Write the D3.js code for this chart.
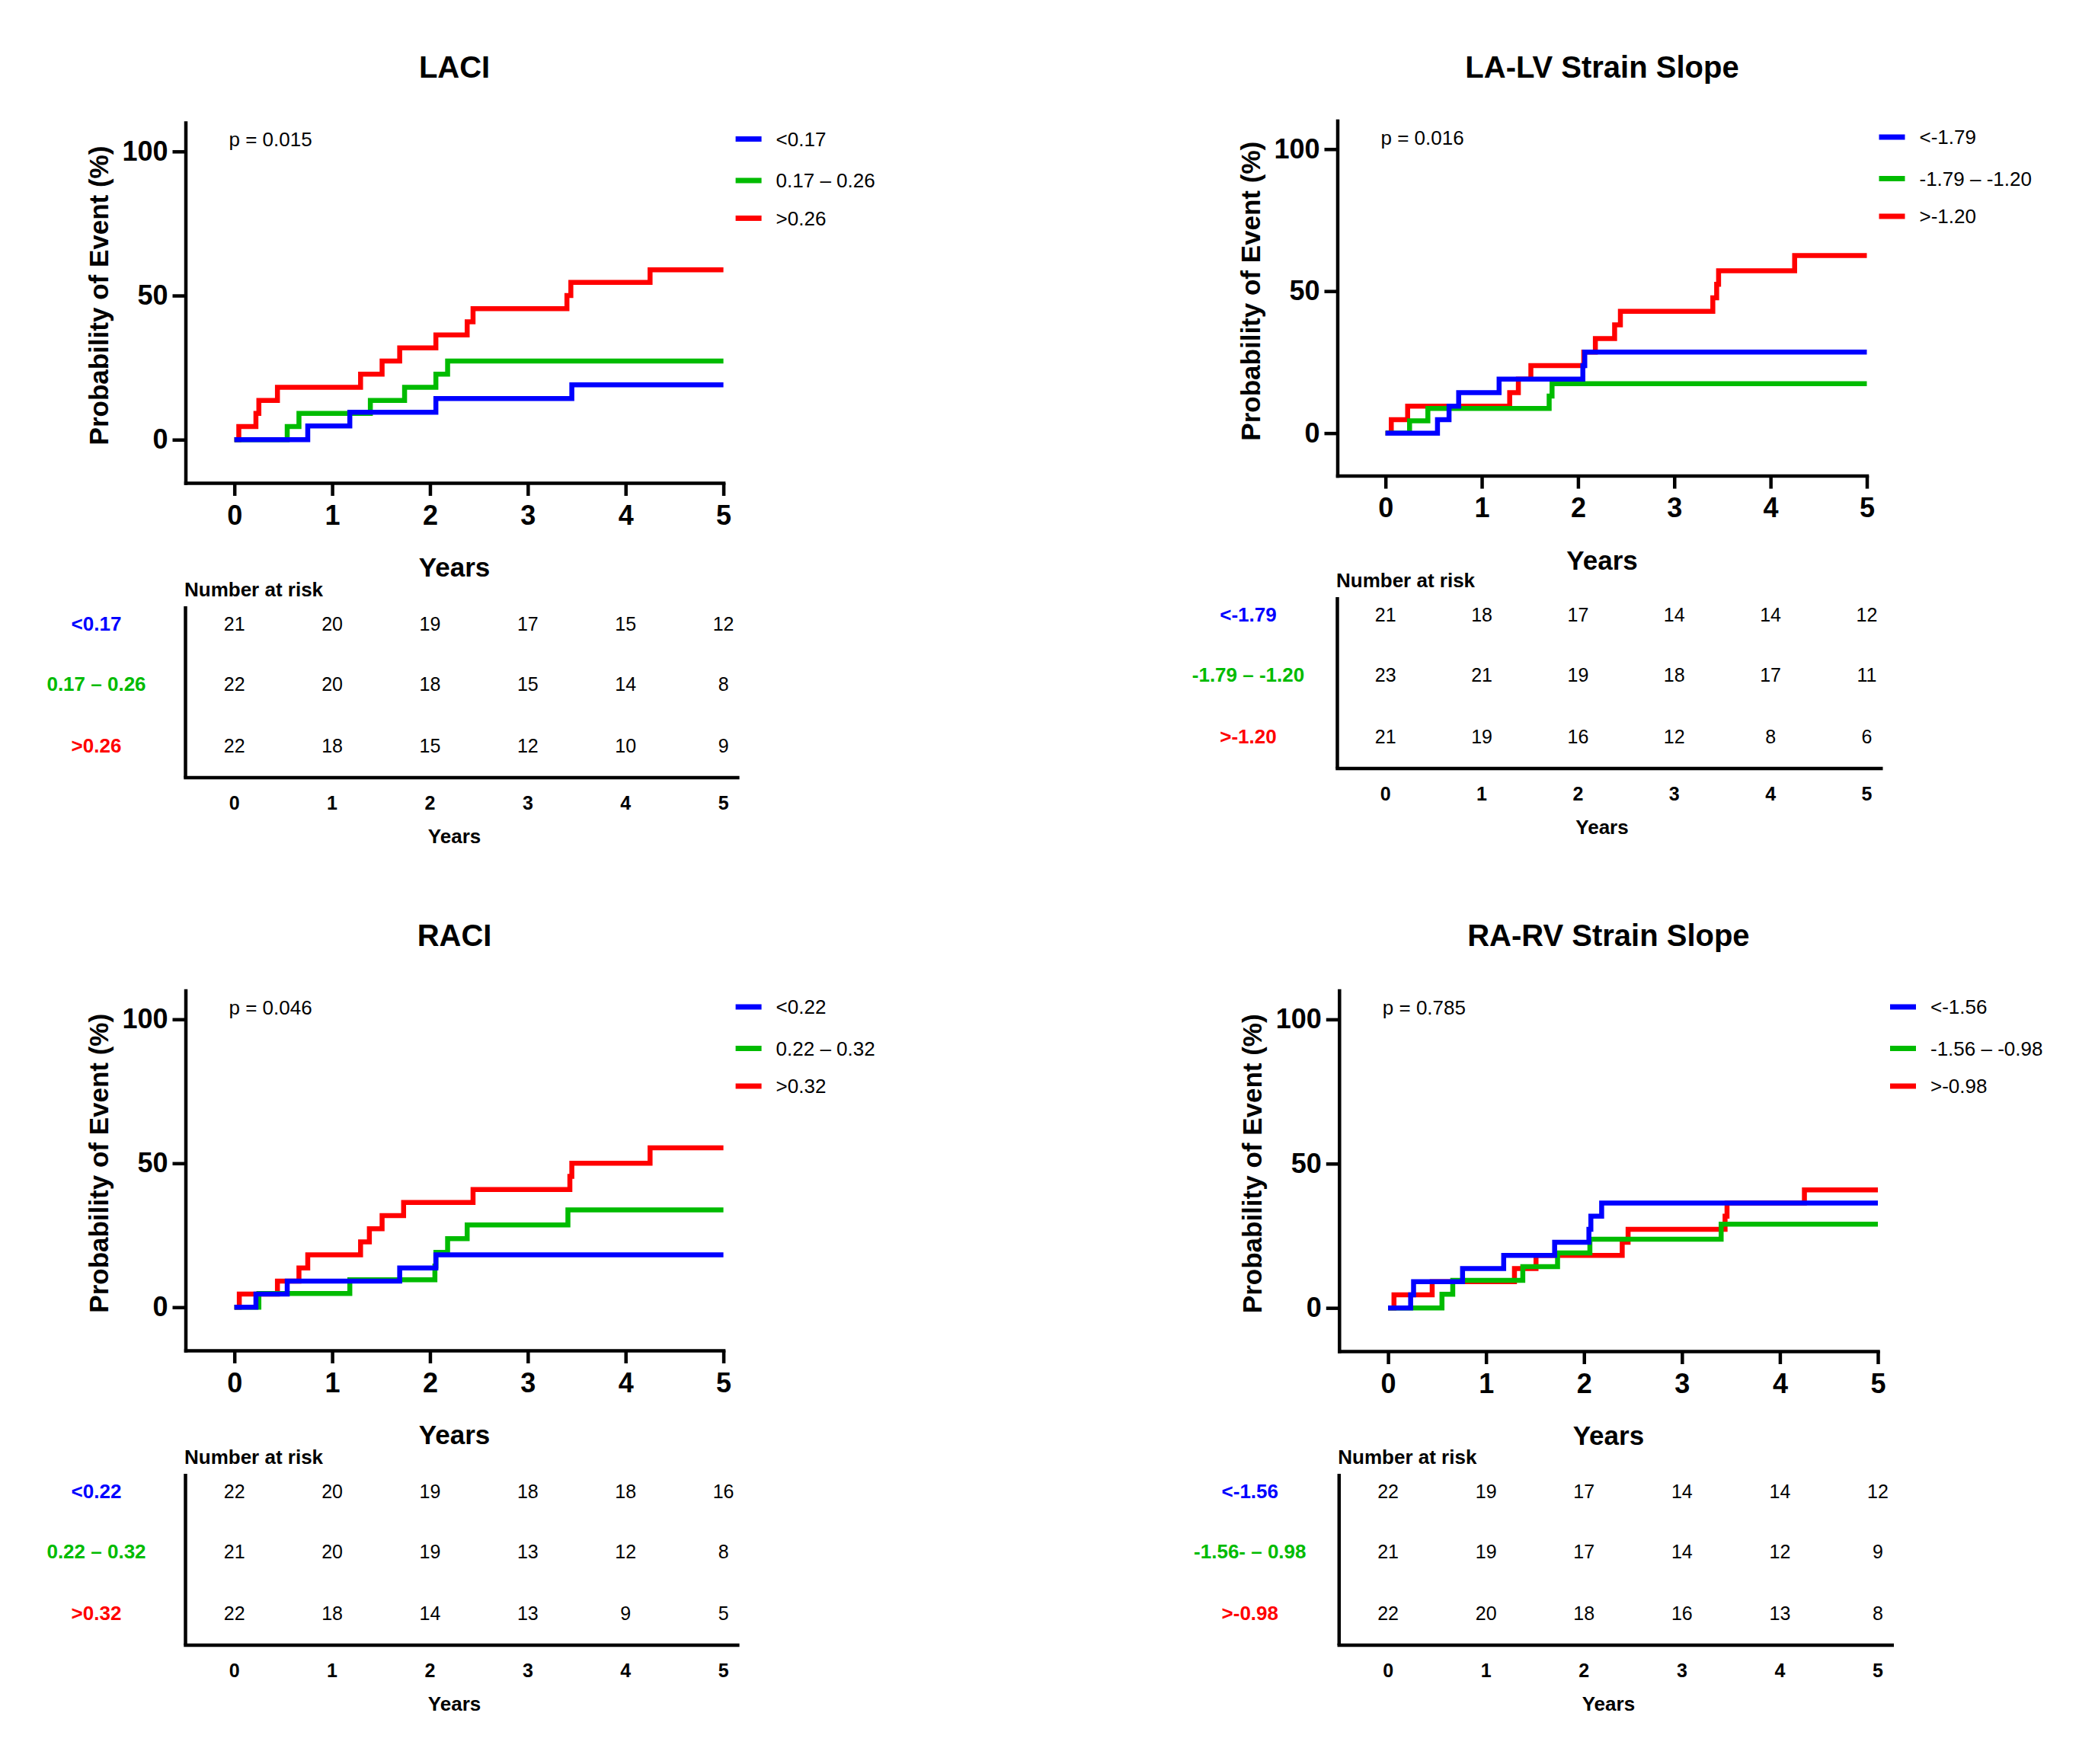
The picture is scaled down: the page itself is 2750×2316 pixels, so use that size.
<!DOCTYPE html>
<html>
<head>
<meta charset="utf-8">
<script src="https://cdn.jsdelivr.net/npm/d3@7/dist/d3.min.js"></script>
<style>
  html, body { margin: 0; padding: 0; background: #fff; }
  svg { display: block; }
  text { font-family: "Liberation Sans", Arial, Helvetica, sans-serif; }
</style>
</head>
<body>
<svg id="chart" width="2750" height="2316"></svg>
<script>
// ---------------- DATA ----------------
const xTicks = [0, 1, 2, 3, 4, 5];
const yTicks = [0, 50, 100];
const followUpEnd = 5;

// LACI
const laciLow  = [[0,0],[0.75,4.76],[1.18,9.52],[2.06,14.29],[3.45,19.05]];
const laciMid  = [[0,0],[0.54,4.55],[0.66,9.09],[1.39,13.64],[1.74,18.18],[2.06,22.73],[2.18,27.27]];
const laciHigh = [[0,0],[0.045,4.55],[0.22,9.09],[0.25,13.64],[0.44,18.18],[1.29,22.73],[1.51,27.27],[1.69,31.82],[2.06,36.36],[2.38,40.91],[2.44,45.45],[3.40,50.0],[3.44,54.55],[4.25,58.9]];
const laciGroups = ["<0.17", "0.17 \u2013 0.26", ">0.26"];
const laciTableGroups = ["<0.17", "0.17 \u2013 0.26", ">0.26"];
const laciRisk = [[21,20,19,17,15,12],[22,20,18,15,14,8],[22,18,15,12,10,9]];

// LA-LV Strain Slope
const lalvLow  = [[0,0],[0.54,4.76],[0.66,9.52],[0.76,14.29],[1.18,19.05],[2.05,23.81],[2.07,28.57]];
const lalvMid  = [[0,0],[0.25,4.35],[0.44,8.70],[1.70,13.04],[1.73,17.39]];
const lalvHigh = [[0,0],[0.06,4.76],[0.23,9.52],[1.29,14.29],[1.38,19.05],[1.51,23.81],[2.06,28.57],[2.18,33.33],[2.38,38.10],[2.44,42.86],[3.40,47.62],[3.44,52.38],[3.46,57.14],[4.25,62.5]];
const lalvGroups = ["<-1.79", "-1.79 \u2013 -1.20", ">-1.20"];
const lalvTableGroups = ["<-1.79", "-1.79 \u2013 -1.20", ">-1.20"];
const lalvRisk = [[21,18,17,14,14,12],[23,21,19,18,17,11],[21,19,16,12,8,6]];

// RACI
const raciLow  = [[0,0],[0.22,4.55],[0.54,9.09],[1.69,13.64],[2.06,18.18]];
const raciMid  = [[0,0],[0.25,4.76],[1.18,9.52],[2.05,14.29],[2.06,19.05],[2.18,23.81],[2.38,28.57],[3.41,33.8]];
const raciHigh = [[0,0],[0.05,4.55],[0.44,9.09],[0.66,13.64],[0.75,18.18],[1.29,22.73],[1.38,27.27],[1.51,31.82],[1.73,36.36],[2.44,40.91],[3.43,45.45],[3.45,50.0],[4.25,55.4]];
const raciGroups = ["<0.22", "0.22 \u2013 0.32", ">0.32"];
const raciTableGroups = ["<0.22", "0.22 \u2013 0.32", ">0.32"];
const raciRisk = [[22,20,19,18,18,16],[21,20,19,13,12,8],[22,18,14,13,9,5]];

// RA-RV Strain Slope
const rarvLow  = [[0,0],[0.23,4.55],[0.26,9.09],[0.76,13.64],[1.18,18.18],[1.70,22.73],[2.05,27.27],[2.07,31.82],[2.18,36.36]];
const rarvMid  = [[0,0],[0.55,4.76],[0.66,9.52],[1.375,14.29],[1.73,19.05],[2.06,23.81],[3.40,29.0]];
const rarvHigh = [[0,0],[0.06,4.55],[0.45,9.09],[1.29,13.64],[1.51,18.18],[2.39,22.73],[2.45,27.27],[3.44,31.82],[3.46,36.36],[4.25,40.9]];
const rarvGroups = ["<-1.56", "-1.56 \u2013 -0.98", ">-0.98"];
const rarvTableGroups = ["<-1.56", "-1.56- \u2013 0.98", ">-0.98"];
const rarvRisk = [[22,19,17,14,14,12],[21,19,17,14,12,9],[22,20,18,16,13,8]];

const titles = ["LACI", "LA-LV Strain Slope", "RACI", "RA-RV Strain Slope"];
const pValues = ["p = 0.015", "p = 0.016", "p = 0.046", "p = 0.785"];

// ---------------- LAYOUT / STYLE ----------------
const colors = ["#0000ff", "#00bb00", "#ff0000"];
const FONT = '"Liberation Sans", Arial, Helvetica, sans-serif';

const panels = [
  { title: titles[0], p: pValues[0], series: [laciLow, laciMid, laciHigh], groups: laciGroups, tgroups: laciTableGroups, risk: laciRisk,
    left: 243.5, right: 949.6, top: 161, bottom: 634, titleY: 102, tableBase: 634 },
  { title: titles[1], p: pValues[1], series: [lalvLow, lalvMid, lalvHigh], groups: lalvGroups, tgroups: lalvTableGroups, risk: lalvRisk,
    left: 1755.5, right: 2450.5, top: 158.5, bottom: 624.6, titleY: 102, tableBase: 622 },
  { title: titles[2], p: pValues[2], series: [raciLow, raciMid, raciHigh], groups: raciGroups, tgroups: raciTableGroups, risk: raciRisk,
    left: 243.5, right: 949.6, top: 1300.5, bottom: 1773, titleY: 1242, tableBase: 1773 },
  { title: titles[3], p: pValues[3], series: [rarvLow, rarvMid, rarvHigh], groups: rarvGroups, tgroups: rarvTableGroups, risk: rarvRisk,
    left: 1757.8, right: 2465, top: 1300.5, bottom: 1774, titleY: 1242, tableBase: 1773 }
];

const svg = d3.select("#chart");
svg.append("rect").attr("width", 2750).attr("height", 2316).attr("fill", "#fff");

const AXW = 4.5;
const intFmt = d3.format("d");

panels.forEach(P => {
  const g = svg.append("g");
  const x = d3.scaleLinear().domain([-0.5, 5]).range([P.left, P.right]);
  const y = d3.scaleLinear().domain([-15, 110]).range([P.bottom, P.top]);
  const cx = (P.left + P.right) / 2;

  // title
  g.append("text").attr("x", cx).attr("y", P.titleY).attr("text-anchor", "middle")
    .attr("font-size", 40).attr("font-weight", "bold").text(P.title);

  // axes
  const xAxis = d3.axisBottom(x).tickValues(xTicks).tickFormat(intFmt).tickSize(17).tickSizeOuter(0).tickPadding(12);
  const yAxis = d3.axisLeft(y).tickValues(yTicks).tickFormat(intFmt).tickSize(17).tickSizeOuter(0).tickPadding(6);
  const gx = g.append("g").attr("transform", `translate(0,${P.bottom})`).call(xAxis);
  const gy = g.append("g").attr("transform", `translate(${P.left},0)`).call(yAxis);
  [gx, gy].forEach(a => {
    a.select(".domain").attr("stroke", "#000").attr("stroke-width", AXW).attr("stroke-linecap", "square");
    a.selectAll(".tick line").attr("stroke", "#000").attr("stroke-width", AXW);
    a.selectAll(".tick text").attr("fill", "#000").attr("font-size", 36).attr("font-weight", "bold").attr("font-family", FONT);
  });

  // axis titles
  g.append("text").attr("x", cx).attr("y", P.bottom + 123).attr("text-anchor", "middle")
    .attr("font-size", 35).attr("font-weight", "bold").text("Years");
  g.append("text").attr("transform", `translate(${P.left - 102},${y(50)}) rotate(-90)`)
    .attr("text-anchor", "middle").attr("font-size", 35).attr("font-weight", "bold")
    .text("Probability of Event (%)");

  // p-value
  g.append("text").attr("x", P.left + 57).attr("y", P.top + 31).attr("font-size", 26).text(P.p);

  // curves (draw red, green, blue so blue on top)
  const line = d3.line().x(d => x(d[0])).y(d => y(d[1])).curve(d3.curveStepAfter);
  [2, 1, 0].forEach(i => {
    const s = P.series[i];
    const pts = s.concat([[followUpEnd, s[s.length - 1][1]]]);
    g.append("path").datum(pts).attr("d", line).attr("fill", "none")
      .attr("stroke", colors[i]).attr("stroke-width", 6.5).attr("stroke-linejoin", "miter");
  });

  // legend
  const legOff = [21.5, 76, 125.5];
  P.groups.forEach((lab, i) => {
    const ly = P.top + legOff[i];
    g.append("line").attr("x1", P.right + 16).attr("x2", P.right + 50).attr("y1", ly).attr("y2", ly)
      .attr("stroke", colors[i]).attr("stroke-width", 7);
    g.append("text").attr("x", P.right + 69).attr("y", ly + 9.4).attr("font-size", 26).text(lab);
  });

  // number at risk table
  const tb = P.tableBase;
  g.append("text").attr("x", P.left - 1.5).attr("y", tb + 149).attr("font-size", 26)
    .attr("font-weight", "bold").text("Number at risk");
  g.append("line").attr("x1", P.left).attr("x2", P.left).attr("y1", tb + 162).attr("y2", tb + 387)
    .attr("stroke", "#000").attr("stroke-width", AXW);
  g.append("line").attr("x1", P.left - AXW / 2).attr("x2", P.right + 21).attr("y1", tb + 387).attr("y2", tb + 387)
    .attr("stroke", "#000").attr("stroke-width", AXW);
  const rowOff = [185, 264, 345];
  P.risk.forEach((row, i) => {
    const ry = tb + rowOff[i];
    g.append("text").attr("x", P.left - 117).attr("y", ry + 9).attr("text-anchor", "middle")
      .attr("font-size", 26).attr("font-weight", "bold").attr("fill", colors[i]).text(P.tgroups[i]);
    g.selectAll(null).data(row).enter().append("text")
      .attr("x", (d, k) => x(xTicks[k])).attr("y", ry + 9).attr("text-anchor", "middle")
      .attr("font-size", 25).text(d => d);
  });
  g.selectAll(null).data(xTicks).enter().append("text")
    .attr("x", d => x(d)).attr("y", tb + 429).attr("text-anchor", "middle")
    .attr("font-size", 25).attr("font-weight", "bold").text(d => d);
  g.append("text").attr("x", cx).attr("y", tb + 473).attr("text-anchor", "middle")
    .attr("font-size", 26).attr("font-weight", "bold").text("Years");
});
</script>
</body>
</html>
